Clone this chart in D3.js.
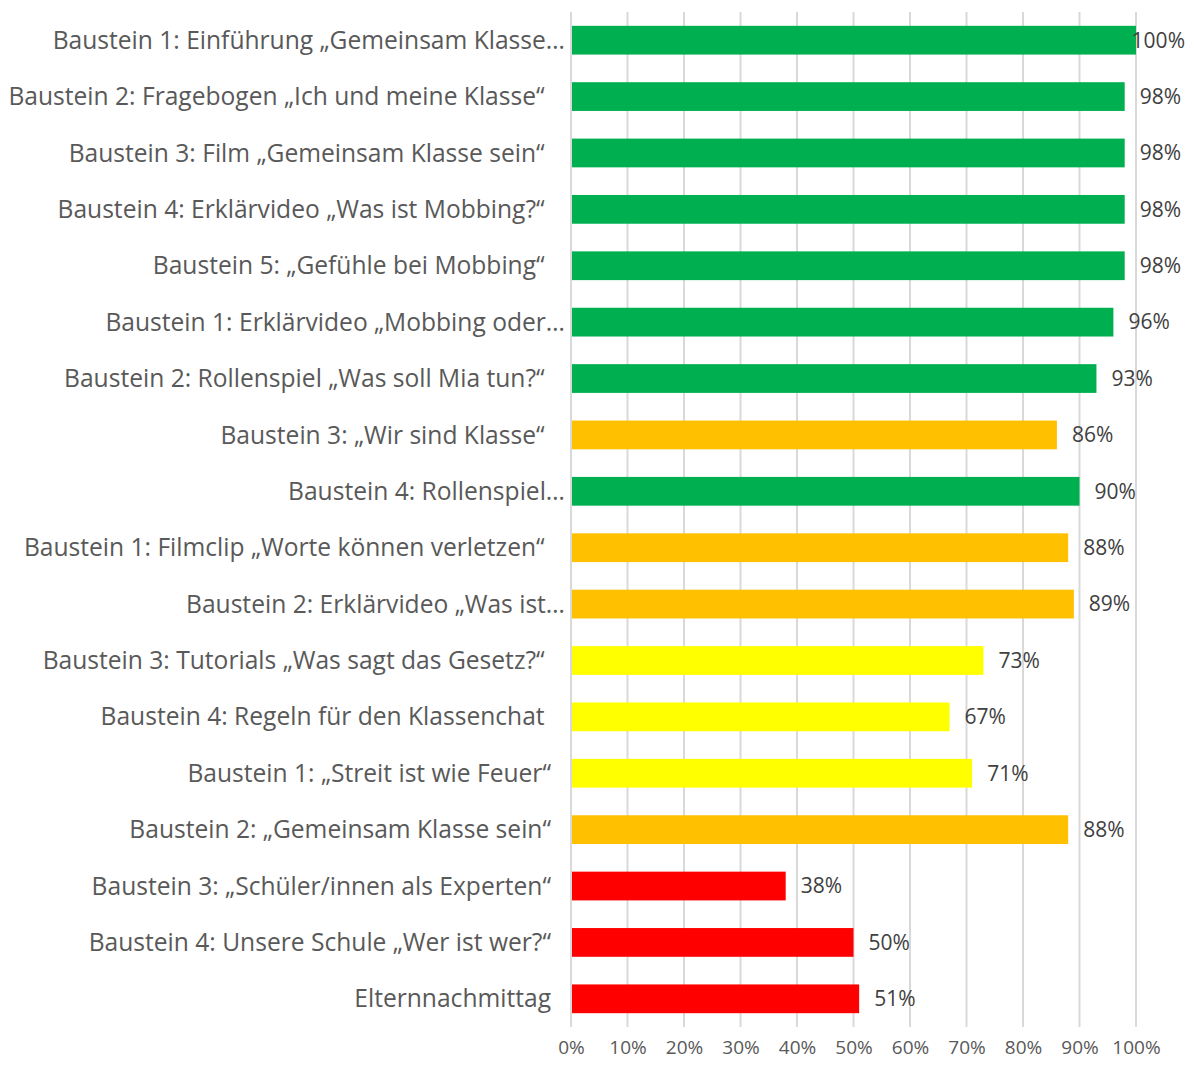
<!DOCTYPE html>
<html>
<head>
<meta charset="utf-8">
<script src="https://cdn.jsdelivr.net/npm/d3@7"></script>
<style>
  html, body { margin: 0; padding: 0; background: #fff; }
  svg { display: block; }
  text { white-space: pre; }
</style>
</head>
<body>
<div id="chart"></div>
<script>
// Kategorien (von oben nach unten), Werte in %, Ampelfarbe je Baustein
const categories = [
  'Baustein 1: Einführung „Gemeinsam Klasse…',
  'Baustein 2: Fragebogen „Ich und meine Klasse“ ',
  'Baustein 3: Film „Gemeinsam Klasse sein“ ',
  'Baustein 4: Erklärvideo „Was ist Mobbing?“ ',
  'Baustein 5: „Gefühle bei Mobbing“ ',
  'Baustein 1: Erklärvideo „Mobbing oder…',
  'Baustein 2: Rollenspiel „Was soll Mia tun?“ ',
  'Baustein 3: „Wir sind Klasse“ ',
  'Baustein 4: Rollenspiel…',
  'Baustein 1: Filmclip „Worte können verletzen“ ',
  'Baustein 2: Erklärvideo „Was ist…',
  'Baustein 3: Tutorials „Was sagt das Gesetz?“ ',
  'Baustein 4: Regeln für den Klassenchat ',
  'Baustein 1: „Streit ist wie Feuer“',
  'Baustein 2: „Gemeinsam Klasse sein“',
  'Baustein 3: „Schüler/innen als Experten“',
  'Baustein 4: Unsere Schule „Wer ist wer?“',
  'Elternnachmittag'
];
const values = [100, 98, 98, 98, 98, 96, 93, 86, 90, 88, 89, 73, 67, 71, 88, 38, 50, 51];
const levels = ['g', 'g', 'g', 'g', 'g', 'g', 'g', 'o', 'g', 'o', 'o', 'y', 'y', 'y', 'o', 'r', 'r', 'r'];
const xTicks = [0, 10, 20, 30, 40, 50, 60, 70, 80, 90, 100];

const LEVEL_COLOR = { g: '#00B050', o: '#FFC000', y: '#FFFF00', r: '#FF0000' };
const FONT = 'Open Sans, Lato, sans-serif';

const W = 1194, H = 1066;
const M = { top: 12, right: 58, bottom: 39, left: 571 };

const svg = d3.select('#chart').append('svg')
  .attr('width', W).attr('height', H);

const x = d3.scaleLinear().domain([0, 100]).range([M.left, W - M.right]);
const y = d3.scaleBand().domain(d3.range(categories.length))
  .range([M.top, H - M.bottom]).paddingInner(0.49).paddingOuter(0.245);

// Gitternetzlinien
svg.append('g').selectAll('line').data(xTicks).join('line')
  .attr('x1', d => x(d)).attr('x2', d => x(d))
  .attr('y1', M.top).attr('y2', H - M.bottom)
  .attr('stroke', '#d9d9d9').attr('stroke-width', 2);

// x-Achse (nur Beschriftungen)
const xAxis = svg.append('g')
  .attr('transform', `translate(0,${H - M.bottom})`)
  .call(d3.axisBottom(x).tickValues(xTicks).tickFormat(d => d + '%').tickSize(0).tickPadding(14));
xAxis.select('.domain').remove();
xAxis.selectAll('text')
  .attr('font-family', FONT).attr('font-size', 19).attr('fill', '#595959');

// Balken
svg.append('g').selectAll('rect').data(values).join('rect')
  .attr('x', x(0) + 1)
  .attr('y', (d, i) => y(i))
  .attr('width', d => x(d) - x(0) - 1)
  .attr('height', y.bandwidth())
  .attr('fill', (d, i) => LEVEL_COLOR[levels[i]]);

// Kategorie-Beschriftungen
svg.append('g').selectAll('text').data(categories).join('text')
  .attr('x', d => d.endsWith('…') ? 565 : 551)
  .attr('y', (d, i) => y(i) + y.bandwidth() / 2)
  .attr('dy', '0.35em')
  .attr('text-anchor', 'end')
  .attr('font-family', FONT).attr('font-size', 24.6).attr('fill', '#595959')
  .text(d => d);

// Datenbeschriftungen
svg.append('g').selectAll('text').data(values).join('text')
  .attr('x', d => x(d) + 15)
  .attr('y', (d, i) => y(i) + y.bandwidth() / 2)
  .attr('dy', '0.35em')
  .attr('font-family', FONT).attr('font-size', 21).attr('fill', '#404040')
  .text(d => d + '%')
  .each(function () {
    const w = this.getComputedTextLength();
    const xx = +this.getAttribute('x');
    if (xx + w > W - 9) this.setAttribute('x', W - 9 - w);
  });
</script>
</body>
</html>
